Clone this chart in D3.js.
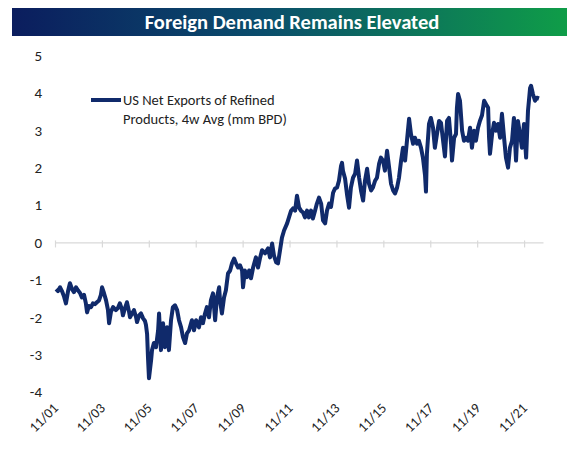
<!DOCTYPE html>
<html>
<head>
<meta charset="utf-8">
<script src="https://cdn.jsdelivr.net/npm/d3@7"></script>
<style>
  html, body { margin: 0; padding: 0; background: #ffffff; }
  svg { display: block; font-family: Carlito, Lato, "Open Sans", sans-serif; }
</style>
</head>
<body>
<svg id="chart" width="579" height="468"></svg>
<script>
// ---- data (decimal years, values in mm BPD) ----
const title = "Foreign Demand Remains Elevated";
const seriesName = ["US Net Exports of Refined", "Products, 4w Avg (mm BPD)"];
const yTicks = [5, 4, 3, 2, 1, 0, -1, -2, -3, -4];
const xTickLabels = ["11/01","11/03","11/05","11/07","11/09","11/11","11/13","11/15","11/17","11/19","11/21"];
const dates = [
  2001.88,2001.96,2002.05,2002.13,2002.22,2002.30,2002.39,2002.47,2002.56,2002.64,2002.73,2002.81,2002.90,2002.98,
  2003.07,2003.15,2003.20,2003.28,2003.37,2003.45,2003.54,2003.62,2003.71,2003.79,2003.84,2003.92,
  2004.01,2004.09,2004.14,2004.22,2004.31,2004.43,2004.52,2004.60,2004.69,2004.73,2004.82,2004.90,2004.99,
  2005.03,2005.12,2005.20,2005.29,2005.33,2005.42,2005.50,2005.59,2005.67,2005.71,2005.76,2005.80,2005.84,2005.93,2005.97,
  2006.05,2006.14,2006.23,2006.27,2006.35,2006.44,2006.52,2006.61,2006.69,2006.78,2006.86,2006.95,
  2007.04,2007.12,2007.21,2007.29,2007.38,2007.46,2007.55,2007.67,2007.76,2007.85,2007.97,
  2008.06,2008.14,2008.23,2008.31,2008.40,2008.48,2008.57,2008.66,2008.74,2008.83,2008.87,2008.95,
  2009.04,2009.12,2009.21,2009.30,2009.38,2009.47,2009.55,2009.64,2009.72,2009.81,2009.85,2009.93,
  2010.02,2010.11,2010.19,2010.28,2010.40,2010.49,2010.57,2010.66,2010.79,2010.92,
  2011.00,2011.09,2011.17,2011.26,2011.34,2011.43,2011.51,2011.60,2011.73,2011.81,2011.90,2011.98,
  2012.07,2012.15,2012.24,2012.32,2012.41,2012.49,2012.58,2012.66,2012.75,2012.83,2012.92,
  2013.00,2013.09,2013.18,2013.26,2013.35,2013.43,2013.52,2013.60,2013.69,2013.77,2013.86,2013.94,
  2014.03,2014.07,2014.11,2014.20,2014.28,2014.37,2014.45,2014.54,2014.63,2014.71,2014.80,2014.88,2014.97,
  2015.05,2015.14,2015.22,2015.31,2015.39,2015.48,2015.56,2015.65,2015.73,2015.82,2015.90,2015.99,
  2016.08,2016.16,2016.25,2016.33,2016.42,2016.50,2016.59,2016.67,2016.76,2016.84,2016.93,
  2017.01,2017.10,2017.18,2017.27,2017.35,2017.44,2017.52,2017.61,2017.65,2017.69,2017.78,2017.86,2017.95,
  2018.03,2018.12,2018.21,2018.29,2018.38,2018.46,2018.55,2018.63,2018.72,2018.76,2018.85,2018.93,2018.97,
  2019.02,2019.10,2019.19,2019.27,2019.36,2019.44,2019.53,2019.61,2019.70,2019.78,2019.87,2019.95,
  2020.04,2020.13,2020.21,2020.30,2020.34,2020.38,2020.47,2020.55,2020.64,2020.72,2020.81,2020.89,2020.98,
  2021.06,2021.15,2021.23,2021.32,2021.40,2021.49,2021.57,2021.66,2021.74,2021.83,2021.92,
  2022.00,2022.09,2022.13,2022.21,2022.30,2022.38,2022.47
];
const values = [
  -1.25,-1.30,-1.20,-1.30,-1.45,-1.63,-1.30,-1.09,-1.25,-1.33,-1.20,-1.28,-1.35,-1.47,
  -1.40,-1.63,-1.87,-1.70,-1.73,-1.63,-1.65,-1.60,-1.55,-1.40,-1.20,-1.35,
  -1.55,-1.80,-2.16,-1.85,-1.73,-1.81,-1.75,-1.63,-1.80,-1.95,-1.75,-1.60,-1.85,
  -2.00,-1.90,-1.81,-2.00,-2.13,-1.95,-1.90,-2.03,-2.10,-2.20,-2.45,-3.10,-3.63,-3.15,-2.88,
  -2.69,-2.80,-2.35,-1.90,-2.88,-2.16,-2.80,-2.27,-2.88,-2.08,-1.73,-1.68,
  -1.81,-2.08,-2.27,-2.53,-2.69,-2.43,-2.35,-2.08,-2.35,-2.08,-2.27,
  -2.00,-2.16,-1.90,-1.73,-2.00,-1.55,-1.36,-2.08,-1.47,-1.20,-1.55,-1.90,
  -1.47,-1.28,-0.83,-0.75,-0.56,-0.43,-0.56,-0.67,-0.61,-0.75,-1.20,-0.75,
  -0.93,-0.75,-0.96,-0.67,-0.40,-0.67,-0.43,-0.21,-0.29,-0.16,
  -0.40,-0.03,-0.35,-0.53,-0.56,-0.20,0.13,0.32,0.51,0.67,0.85,0.91,
  0.85,1.25,0.93,0.85,0.80,0.67,0.85,0.67,0.85,0.64,0.85,
  1.04,1.20,1.04,0.59,0.51,0.85,1.04,0.95,1.33,1.44,1.47,1.65,
  2.05,2.13,1.92,1.71,1.30,0.93,1.47,1.73,1.84,2.19,1.73,1.39,1.12,
  1.65,1.97,1.57,1.39,1.47,1.65,1.73,2.10,2.27,2.19,1.92,2.45,
  2.00,1.57,1.39,1.31,1.47,1.73,2.19,2.53,2.19,2.72,3.31,
  2.90,2.64,2.80,2.64,2.72,2.53,2.27,1.80,1.36,2.37,3.17,3.33,3.07,
  2.53,2.90,3.25,3.20,2.72,2.30,3.25,3.33,2.64,2.19,2.80,2.90,3.60,
  3.97,3.79,2.99,2.72,2.80,2.72,3.07,2.53,2.99,2.72,3.07,3.25,
  3.40,3.79,3.70,3.60,2.80,2.37,2.90,3.20,2.99,3.17,2.80,3.44,2.80,
  2.27,2.00,2.53,2.72,3.33,2.19,3.25,2.90,2.53,3.17,2.27,
  3.52,4.13,4.19,3.97,3.79,3.87,3.85
];

// ---- drawing ----
const svg = d3.select("#chart");
const lineColor = "#102a6b";

// title banner with gradient
const defs = svg.append("defs");
const grad = defs.append("linearGradient").attr("id", "titleGrad")
  .attr("x1", "0%").attr("x2", "100%").attr("y1", "0%").attr("y2", "0%");
grad.append("stop").attr("offset", "0%").attr("stop-color", "#0b1d5e");
grad.append("stop").attr("offset", "45%").attr("stop-color", "#0a4d6c");
grad.append("stop").attr("offset", "100%").attr("stop-color", "#0f9d48");
svg.append("rect").attr("x", 12).attr("y", 8).attr("width", 555).attr("height", 28)
  .attr("fill", "url(#titleGrad)");
svg.append("text").attr("x", 292).attr("y", 22).attr("text-anchor", "middle")
  .attr("dominant-baseline", "central").attr("fill", "#ffffff")
  .attr("font-size", 20.5).attr("font-weight", "bold").text(title);

// scales
const x = d3.scaleLinear().domain([2001 + 10/12, 2022.64]).range([55, 543]);
const y = d3.scaleLinear().domain([-4, 5]).range([392, 55.5]);

const tickYears = xTickLabels.map(s => 2000 + (+s.split("/")[1]) + (+s.split("/")[0] - 1) / 12);

// zero axis with ticks
const xAxis = d3.axisBottom(x).tickValues(tickYears).tickSize(5).tickSizeOuter(0).tickFormat("");
const gx = svg.append("g").attr("transform", `translate(0,${y(0)})`).call(xAxis);
gx.select(".domain").attr("stroke", "#d9d9d9").attr("stroke-width", 1.2);
gx.selectAll(".tick line").attr("stroke", "#d9d9d9").attr("stroke-width", 1.2).attr("y1", -2);

// x tick labels at bottom, rotated
svg.append("g").selectAll("text").data(xTickLabels).join("text")
  .attr("transform", (d, i) => `translate(${x(tickYears[i]) + 4},${409}) rotate(-45)`)
  .attr("text-anchor", "end").attr("font-size", 14).attr("fill", "#222")
  .text(d => d);

// y axis labels (no line)
const yAxis = d3.axisLeft(y).tickValues(yTicks).tickSize(0).tickPadding(0).tickFormat(d3.format("d"));
const gy = svg.append("g").attr("transform", "translate(42,0)").call(yAxis);
gy.select(".domain").remove();
gy.selectAll("text").attr("font-size", 15).attr("fill", "#222")
  .attr("font-family", "Carlito, Lato, 'Open Sans', sans-serif").text(d => d < 0 ? "-" + Math.abs(d) : d);

// line
const pts = dates.map((d, i) => [d, values[i]]);
const line = d3.line().x(d => x(d[0])).y(d => y(d[1]));
svg.append("path").datum(pts).attr("d", line).attr("fill", "none")
  .attr("stroke", lineColor).attr("stroke-width", 4).attr("stroke-linejoin", "round");

// legend
svg.append("line").attr("x1", 91).attr("x2", 121).attr("y1", 100).attr("y2", 100)
  .attr("stroke", lineColor).attr("stroke-width", 4);
svg.append("g").selectAll("text").data(seriesName).join("text")
  .attr("x", 123).attr("y", (d, i) => 105 + i * 18.5)
  .attr("font-size", 14.5).attr("fill", "#222").text(d => d);
</script>
</body>
</html>
